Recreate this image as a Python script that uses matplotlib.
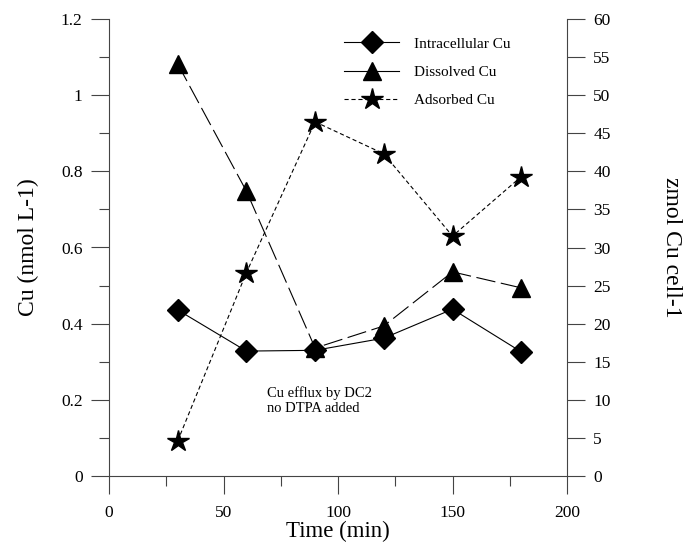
import matplotlib
matplotlib.use("Agg")
import matplotlib.pyplot as plt
from matplotlib.lines import Line2D
from matplotlib.ticker import MultipleLocator

plt.rcParams['font.family'] = ['Liberation Serif', 'DejaVu Serif']
plt.rcParams['lines.scale_dashes'] = False

time = [30, 60, 90, 120, 150, 180]
dissolved = [1.082, 0.748, 0.336, 0.394, 0.536, 0.494]        # nmol L-1 (left axis)
intracellular = [21.8, 16.4, 16.5, 18.1, 21.9, 16.3]         # zmol Cu cell-1 (right axis)
adsorbed = [4.6, 26.7, 46.5, 42.3, 31.5, 39.3]               # zmol Cu cell-1 (right axis)

fig = plt.figure(figsize=(6.88, 5.46), dpi=100)
ax = fig.add_axes([109/688, 1-476/546, (567-109)/688, (476-19)/546])
ax2 = ax.twinx()

col = '#000000'
spc = '#444444'

ax.plot(time, dissolved, color=col, lw=0.8, dashes=(14, 4),
        marker='^', ms=13, mfc='black', mec='black', zorder=3)
ax2.plot(time, intracellular, color=col, lw=0.8, linestyle='-',
         marker='D', ms=11, mfc='black', mec='black', zorder=3)
ax2.plot(time, adsorbed, color=col, lw=0.8, dashes=(3, 2),
         marker='*', ms=16, mfc='black', mec='black', zorder=3)

ax.set_xlim(0, 200)
ax.set_ylim(0, 1.2)
ax2.set_ylim(0, 60)

for a in (ax, ax2):
    a.spines['top'].set_visible(False)
    for s in a.spines.values():
        s.set_color(spc)
        s.set_linewidth(0.8)
ax.spines['right'].set_visible(False)
ax2.spines['left'].set_visible(False)
ax2.spines['bottom'].set_visible(False)

ax.xaxis.set_major_locator(MultipleLocator(50))
ax.xaxis.set_minor_locator(MultipleLocator(25))
ax.yaxis.set_major_locator(MultipleLocator(0.2))
ax.yaxis.set_minor_locator(MultipleLocator(0.1))
ax2.yaxis.set_major_locator(MultipleLocator(5))

ax.tick_params(axis='both', which='major', direction='out', length=13, width=0.8,
               color=spc, labelsize=12.5, pad=6)
ax.tick_params(axis='both', which='minor', direction='out', length=7, width=0.8, color=spc)
ax2.tick_params(axis='y', which='major', direction='out', length=13, width=0.8,
                color=spc, labelsize=12.5, pad=6)
ax.tick_params(axis='x', pad=8)

ax.set_yticks([0, 0.2, 0.4, 0.6, 0.8, 1.0, 1.2])
ax.set_yticklabels(['0', '0.2', '0.4', '0.6', '0.8', '1', '1.2'])

ax.set_xlabel('Time (min)', fontsize=16.5, labelpad=0)
ax.set_ylabel('Cu (nmol L-1)', fontsize=17, labelpad=16)
ax2.set_ylabel('zmol Cu cell-1', fontsize=17, rotation=270, labelpad=51)

ax.text(69, 0.235, 'Cu efflux by DC2\nno DTPA added', fontsize=10.5,
        va='top', ha='left', linespacing=1.2)

handles = [
    Line2D([], [], color=col, lw=0.8, marker='D', ms=11, mfc='black', mec='black'),
    Line2D([], [], color=col, lw=0.8, marker='^', ms=13, mfc='black', mec='black'),
    Line2D([], [], color=col, lw=0.8, dashes=(3, 2), marker='*', ms=16, mfc='black', mec='black'),
]
labels = ['Intracellular Cu', 'Dissolved Cu', 'Adsorbed Cu']
fig.legend(handles, labels, loc='upper left', bbox_to_anchor=(344/688, 1-37/546),
           frameon=False, fontsize=11, handlelength=3.6, labelspacing=0.95,
           handletextpad=1.0, borderaxespad=0, borderpad=0)

fig.savefig('out.png', dpi=100)
